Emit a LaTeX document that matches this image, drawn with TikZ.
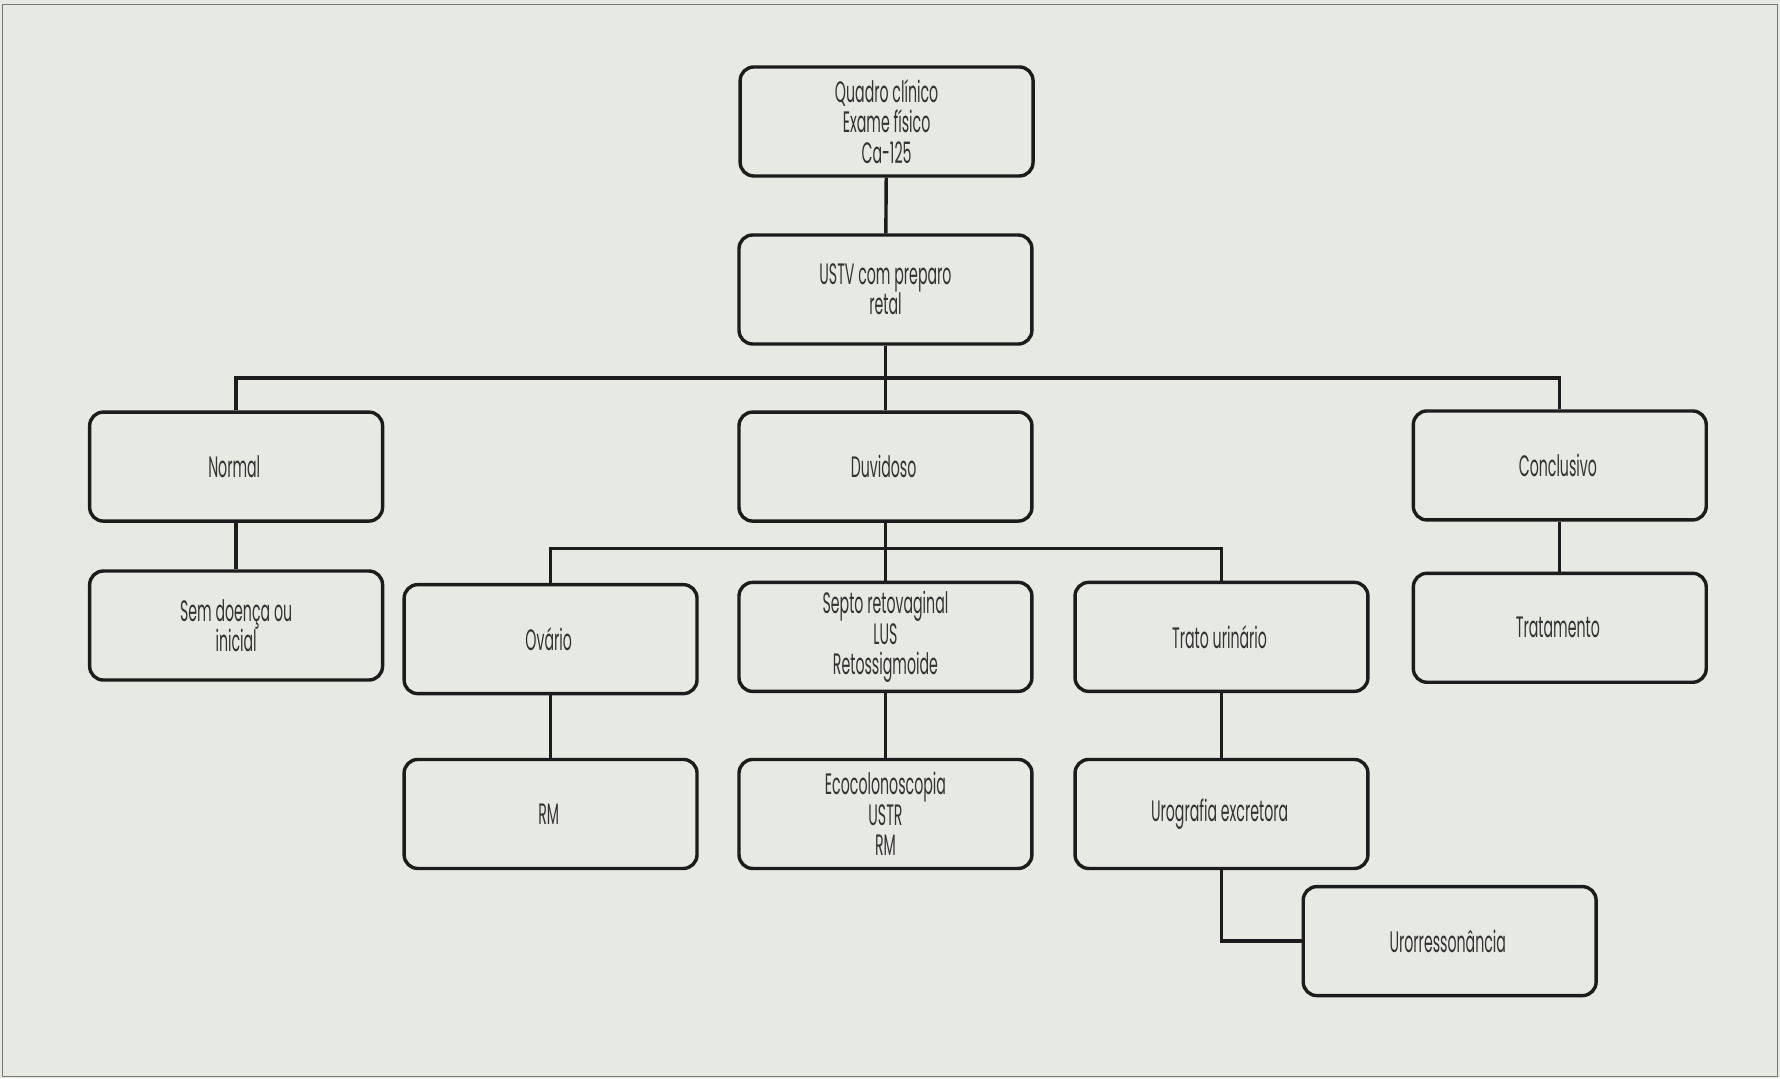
\documentclass[tikz,border=0pt]{standalone}
\usepackage{fontspec}
\setmainfont{Poppins}[FakeStretch=0.48]
\usepackage{xcolor}
\usepackage{tikz}
\usetikzlibrary{positioning}
\definecolor{paper}{RGB}{231,233,227}
\definecolor{ink}{RGB}{28,28,28}
\definecolor{edge}{RGB}{120,120,118}

\begin{document}
\begin{tikzpicture}[x = 0.5pt, y = -0.5pt,
  box/.style = {draw = ink, line width = 1.5pt, rounded corners = 6pt,
    minimum width = 129pt, minimum height = 48pt, inner sep = 0pt,
    align = center, text = ink!90,
    font = \fontsize{13}{13.4}\selectfont},
  link/.style = {draw = ink, line width = 1.5pt}]
  \useasboundingbox (0, 0) rectangle (1568, 950);
  \fill[paper] (0, 0) rectangle (1568, 950);
  \draw[edge, line width = 0.5pt] (2, 4) rectangle (1566, 948);

  \node[box] (quadro) at (781, 107){
    Quadro clínico\\Exame físico\\Ca-125
  };

  \node[box] (ustv) at (780, 255){
    USTV com preparo\\retal
  };

  \node[box] (normal) at (208, 411){
    Normal
  };

  \node[box] (duvidoso) at (780, 411){
    Duvidoso
  };

  \node[box] (conclusivo) at (1374, 410){
    Conclusivo
  };

  \node[box] (semdoenca) at (208, 551){
    Sem doença ou\\inicial
  };

  \node[box] (tratamento) at (1374, 553){
    Tratamento
  };

  \node[box] (ovario) at (485, 563){
    Ovário
  };

  \node[box] (septo) at (780, 561){
    Septo retovaginal\\LUS\\Retossigmoide
  };

  \node[box] (trato) at (1076, 561){
    Trato urinário
  };

  \node[box] (rm) at (485, 717){
    RM
  };

  \node[box] (eco) at (780, 717){
    Ecocolonoscopia\\USTR\\RM
  };

  \node[box] (urografia) at (1076, 717){
    Urografia excretora
  };

  \node[box] (uroress) at (1277, 829){
    Urorressonância
  };

  \coordinate (bus1) at (780, 333);
  \coordinate (bus2) at (780, 483);

  \draw[link] (quadro) -- (ustv);
  \draw[link] (ustv) -- (duvidoso);
  \draw[link] (normal.north) |- (bus1) -| (conclusivo.north);

  \draw[link] (normal) -- (semdoenca);
  \draw[link] (conclusivo) -- (tratamento);

  \draw[link] (duvidoso) -- (septo);
  \draw[link] (ovario.north) |- (bus2) -| (trato.north);

  \draw[link] (ovario) -- (rm);
  \draw[link] (septo) -- (eco);
  \draw[link] (trato) -- (urografia);
  \draw[link] (urografia.south) |- (uroress.west);
\end{tikzpicture}
\end{document}
